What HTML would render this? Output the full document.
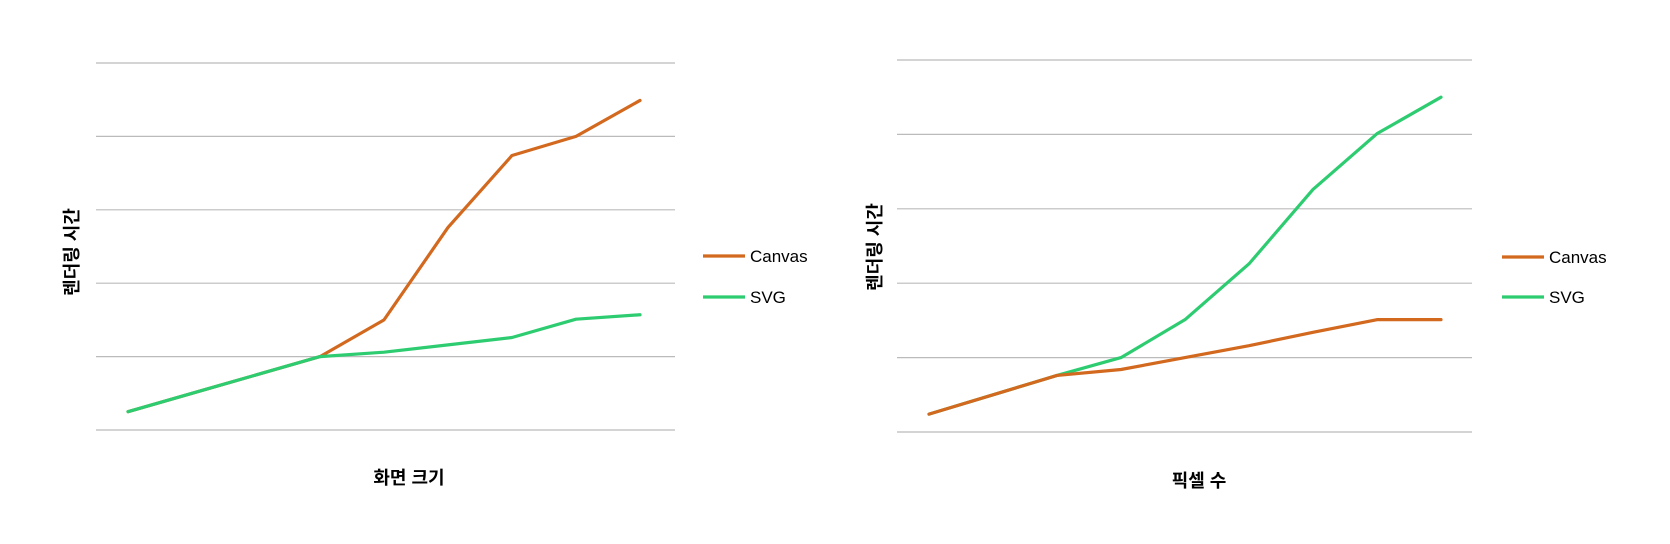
<!DOCTYPE html>
<html><head><meta charset="utf-8"><style>
html,body{margin:0;padding:0;background:#fff;}
svg{display:block;}
text{font-family:"Liberation Sans","Noto Sans CJK KR",sans-serif;}
</style></head><body>
<svg id="c" width="1670" height="544" viewBox="0 0 1670 544"></svg>
<script>
const categories = [1,2,3,4,5,6,7,8,9];
const leftCanvas = [0.25,0.5,0.75,1.0,1.5,2.76,3.74,4.0,4.49];
const leftSvg = [0.25,0.5,0.75,1.0,1.06,1.16,1.26,1.51,1.57];
const rightCanvas = [0.24,0.5,0.76,0.84,1.0,1.16,1.34,1.51,1.51];
const rightSvg = [0.24,0.5,0.76,1.0,1.51,2.26,3.26,4.01,4.5];
const gridTicks = [0,1,2,3,4,5];
const seriesNames = ["Canvas","SVG"];
const colors = ["#d2691e","#2ecc71"];

const NS="http://www.w3.org/2000/svg";
const svg=document.getElementById('c');
function el(t,a,p){const e=document.createElementNS(NS,t);for(const k in a)e.setAttribute(k,a[k]);(p||svg).appendChild(e);return e;}

function chart(cfg){
  const g=el('g',{});
  
  
  const yScale=v=>cfg.y0-(v/5)*(cfg.y0-cfg.y5);
  const xScale=i=>cfg.px0+i*cfg.step;
  gridTicks.forEach(t=>{
    const l=el('line',{x1:cfg.gx0,x2:cfg.gx1,y1:yScale(t),y2:yScale(t),stroke:'#bbbbbb','stroke-width':1.2},g);
    
    
  });
  cfg.order.forEach(si=>{
    const vals=cfg.series[si];
    const pts=categories.map((c,i)=>xScale(i)+','+yScale(vals[i])).join(' ');
    const p=el('polyline',{points:pts,fill:'none',stroke:colors[si],'stroke-width':3.2,'stroke-linejoin':'round','stroke-linecap':'round'},g);
    
    
  });
  seriesNames.forEach((n,si)=>{
    const y=cfg.legY[si];
    const lg=el('g',{},g);
    
    
    el('line',{x1:cfg.legX,x2:cfg.legX+42,y1:y,y2:y,stroke:colors[si],'stroke-width':3.2},lg);
    const t=el('text',{x:cfg.legX+47,y:y+6,'font-size':17,fill:'#000'},lg);
    t.textContent=n;
  });
  const yt=el('text',{x:0,y:0,'font-size':18,'font-weight':'bold','text-anchor':'middle',transform:`translate(${cfg.ytx},${cfg.yty}) rotate(-90)`},g);
  yt.textContent='렌더링 시간';
  
  
  const xt=el('text',{x:cfg.xtx,y:cfg.xty,'font-size':18,'font-weight':'bold','text-anchor':'middle'},g);
  xt.textContent=cfg.xTitle;
  
  
  svg.appendChild(g);
}
chart({name:'screen-size-chart',y0:430,y5:63,gx0:96,gx1:675,px0:128,step:64,series:[leftCanvas,leftSvg],order:[0,1],legX:703,legY:[256,297],ytx:78,yty:252,xtx:409,xty:484,xTitle:'화면 크기'});
chart({name:'pixel-count-chart',y0:432,y5:60,gx0:897,gx1:1472,px0:929,step:64,series:[rightCanvas,rightSvg],order:[1,0],legX:1502,legY:[257,297],ytx:881,yty:247,xtx:1199,xty:487,xTitle:'픽셀 수'});
</script>
</body></html>
